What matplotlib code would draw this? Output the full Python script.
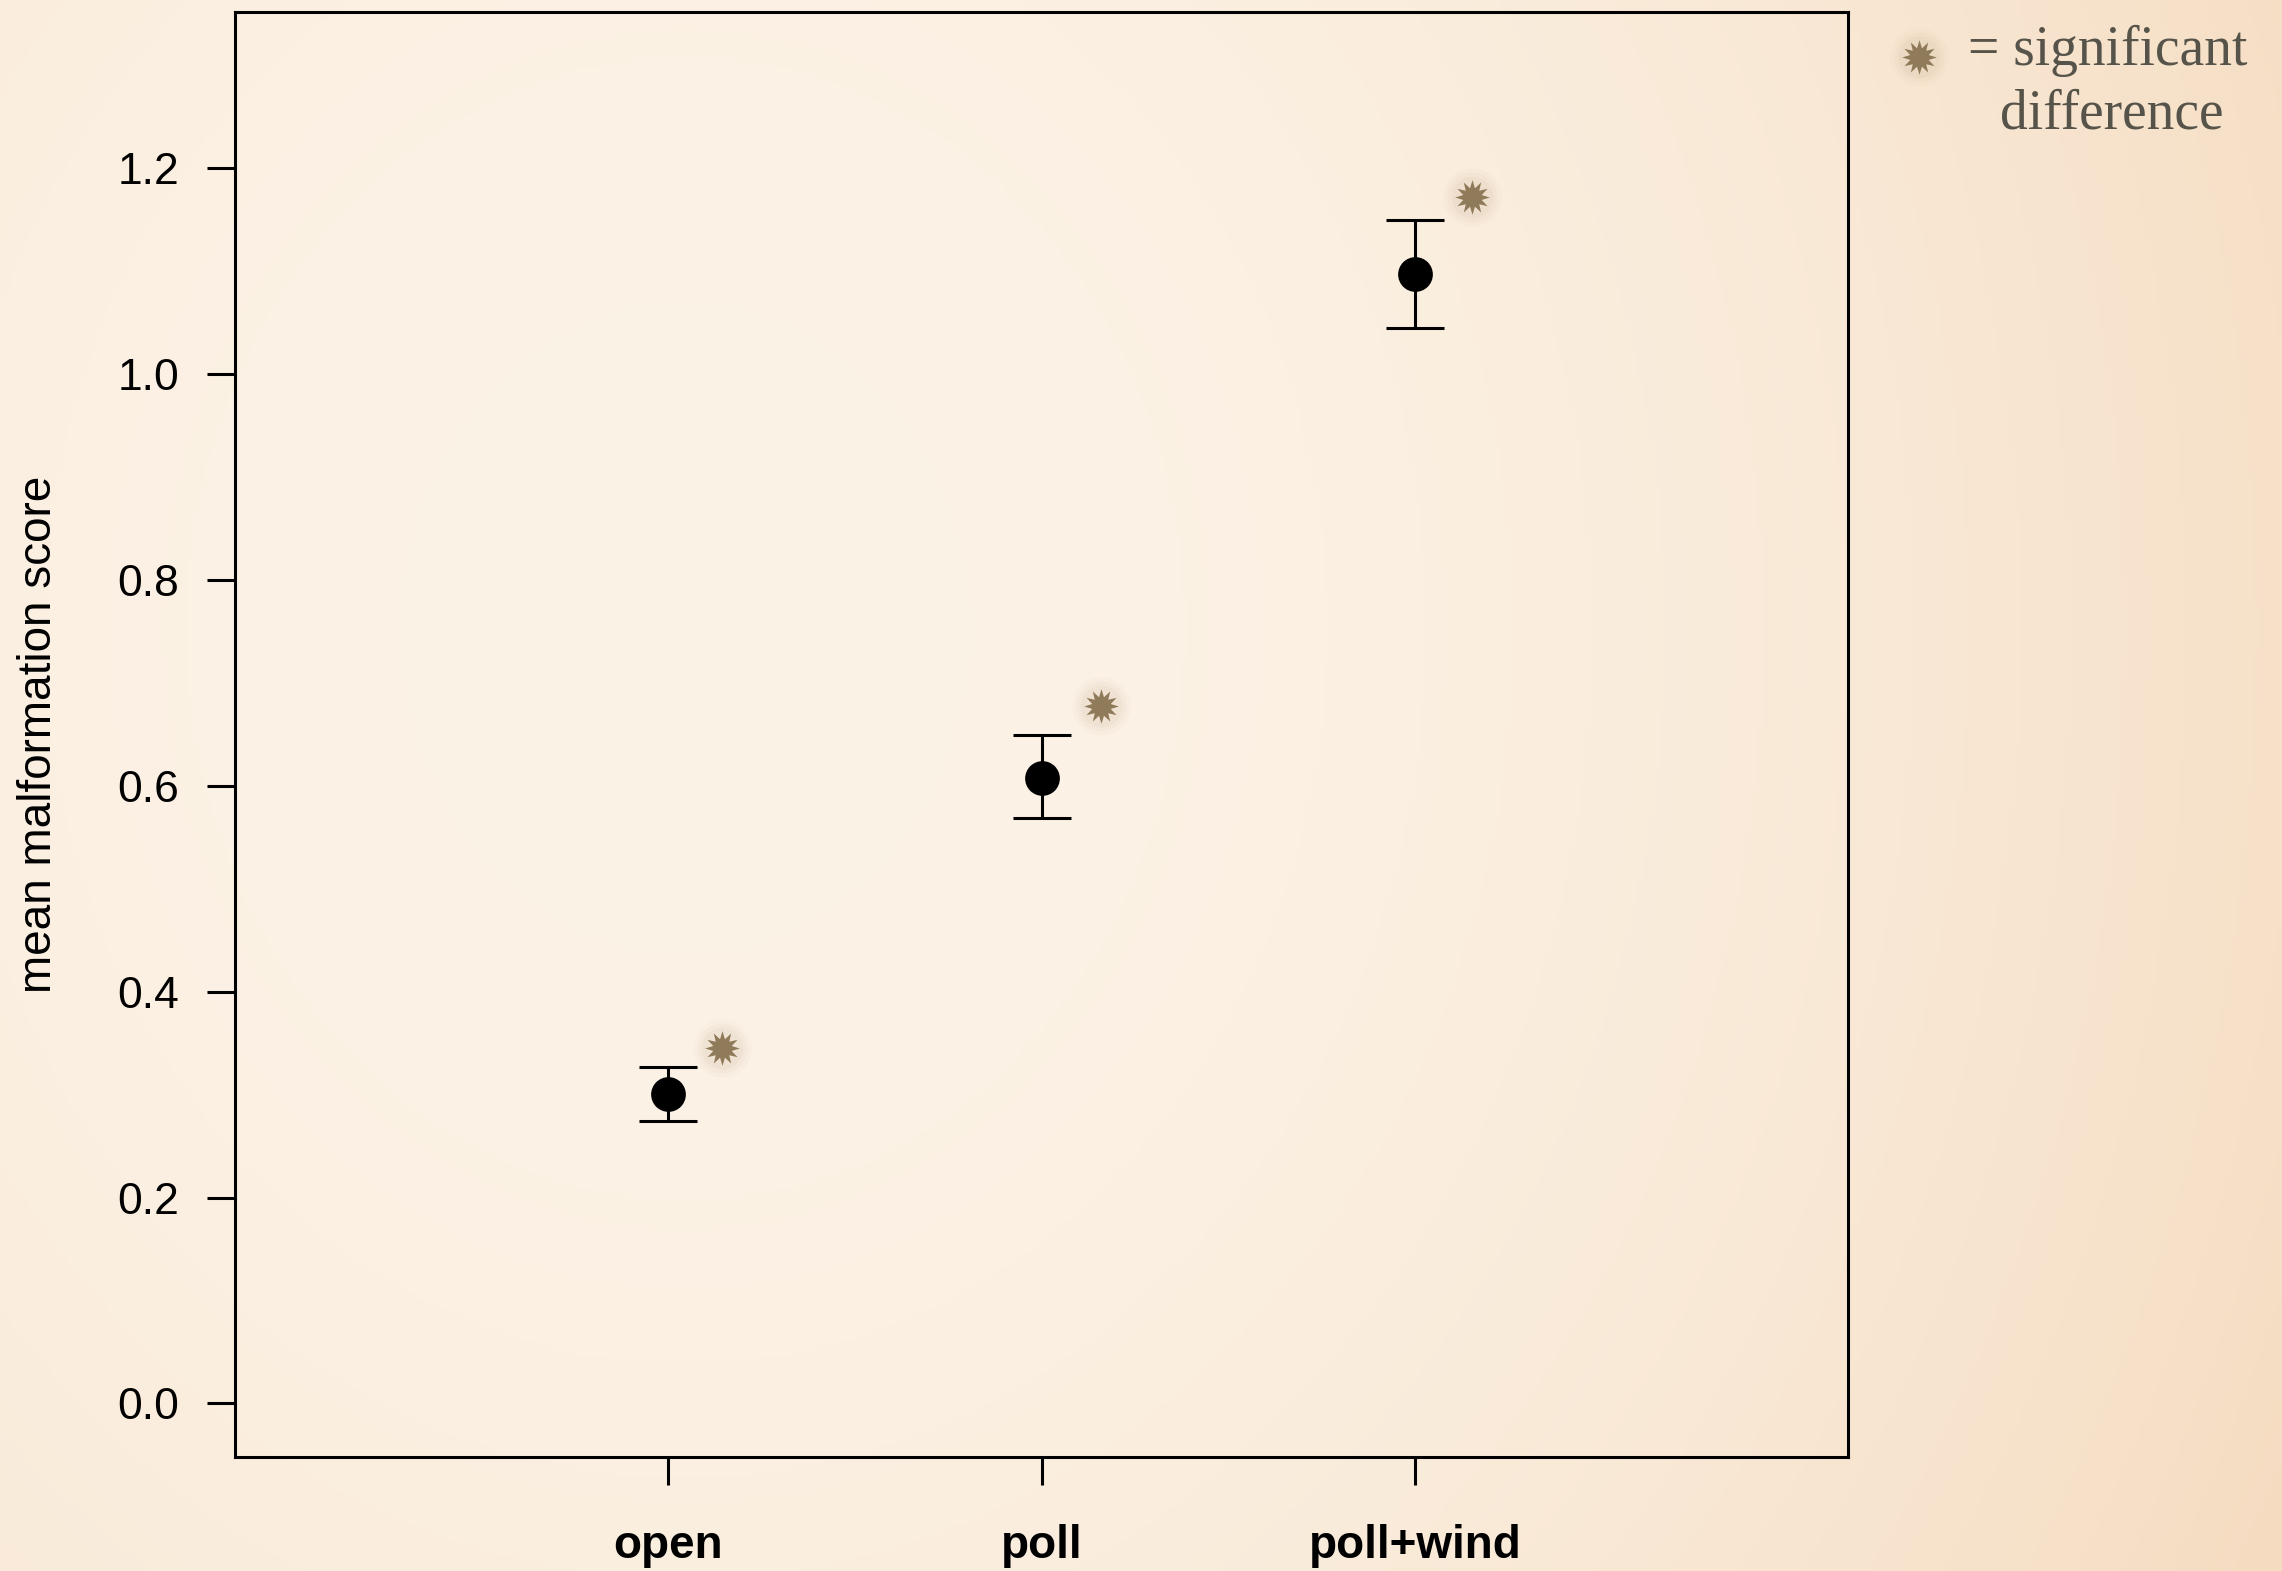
import numpy as np
import matplotlib
matplotlib.use('Agg')
import matplotlib.pyplot as plt
from matplotlib.path import Path

plt.rcParams['font.family'] = ['Liberation Sans', 'DejaVu Sans']

# data
groups = ['open', 'poll', 'poll+wind']
means = [0.301, 0.608, 1.097]
lower = [0.274, 0.569, 1.045]
upper = [0.327, 0.649, 1.150]
star_x = [1.145, 2.16, 3.153]   # positions of the "significant" stars
star_y = [0.345, 0.678, 1.172]
yticks = [0.0, 0.2, 0.4, 0.6, 0.8, 1.0, 1.2]

fig = plt.figure(figsize=(11.41, 7.855), dpi=200)

# parchment background
bg = fig.add_axes([0, 0, 1, 1], zorder=-10)
gx, gy = np.meshgrid(np.linspace(0, 1, 400), np.linspace(0, 1, 300))
d = np.sqrt(((gx - 0.3) / 0.78) ** 2 + ((gy - 0.6) / 1.3) ** 2)
t = np.clip(d, 0, 1) ** 2.0
c0 = np.array([252, 243, 231]) / 255
c1 = np.array([245, 220, 193]) / 255
img = c0[None, None, :] * (1 - t[..., None]) + c1[None, None, :] * t[..., None]
bg.imshow(img, extent=[0, 1, 0, 1], aspect='auto', origin='lower')
bg.axis('off')

ax = fig.add_axes([0.1030, 0.0726, 0.7068, 0.9198])
ax.patch.set_alpha(0)

x = np.arange(1, len(groups) + 1)
m = np.array(means)
yerr = [m - np.array(lower), np.array(upper) - m]
ax.errorbar(x, m, yerr=yerr, fmt='o', color='black', ms=11.5, elinewidth=1.1,
            capsize=10.6, capthick=1.1, zorder=3)

# 12-pointed star marker
n = 12
ang = np.linspace(0, 2 * np.pi, 2 * n, endpoint=False) + np.pi / 2
rad = np.where(np.arange(2 * n) % 2 == 0, 1.0, 0.55)
verts = np.column_stack([rad * np.cos(ang), rad * np.sin(ang)])
verts = np.vstack([verts, verts[:1]])
codes = [Path.MOVETO] + [Path.LINETO] * (2 * n - 1) + [Path.CLOSEPOLY]
star = Path(verts, codes)

star_col = '#8f7a5a'
for s, a in [(21, 0.04), (18, 0.06), (15, 0.08)]:
    ax.plot(star_x, star_y, 'o', ms=s, color='#b89f80', alpha=a, mec='none', zorder=2)
ax.plot(star_x, star_y, ls='none', marker=star, ms=12.5, color=star_col, mec='none', zorder=3)

ax.set_xlim(-0.16, 4.16)
ax.set_ylim(-0.052, 1.352)
ax.set_xticks(x)
ax.set_xticklabels(groups, fontsize=16.5, fontweight='bold')
ax.set_yticks(yticks)
ax.set_yticklabels([f'{v:.1f}' for v in yticks], fontsize=16)
ax.tick_params(axis='both', direction='out', length=10, width=1.1, color='black')
ax.tick_params(axis='y', pad=10)
ax.tick_params(axis='x', pad=14)
for sp in ax.spines.values():
    sp.set_linewidth(1.1)
ax.set_ylabel('mean malformation score', fontsize=16.5)
ax.yaxis.set_label_coords(-0.108, 0.5)

# legend note in the top right corner
for s, a in [(21, 0.04), (18, 0.06), (15, 0.08)]:
    fig.lines.append(plt.Line2D([0.8409], [0.9637], marker='o', ms=s, color='#b89f80',
                                alpha=a, mec='none', transform=fig.transFigure))
fig.lines.append(plt.Line2D([0.8409], [0.9637], marker=star, ms=12.5, color=star_col,
                            mec='none', transform=fig.transFigure))
fig.text(0.8625, 0.9586, '= significant', fontsize=20, color='#56544a',
         family=['Liberation Serif', 'DejaVu Serif'], va='baseline', ha='left')
fig.text(0.8765, 0.9185, 'difference', fontsize=20, color='#56544a',
         family=['Liberation Serif', 'DejaVu Serif'], va='baseline', ha='left')

fig.savefig('out.png', dpi=200)
